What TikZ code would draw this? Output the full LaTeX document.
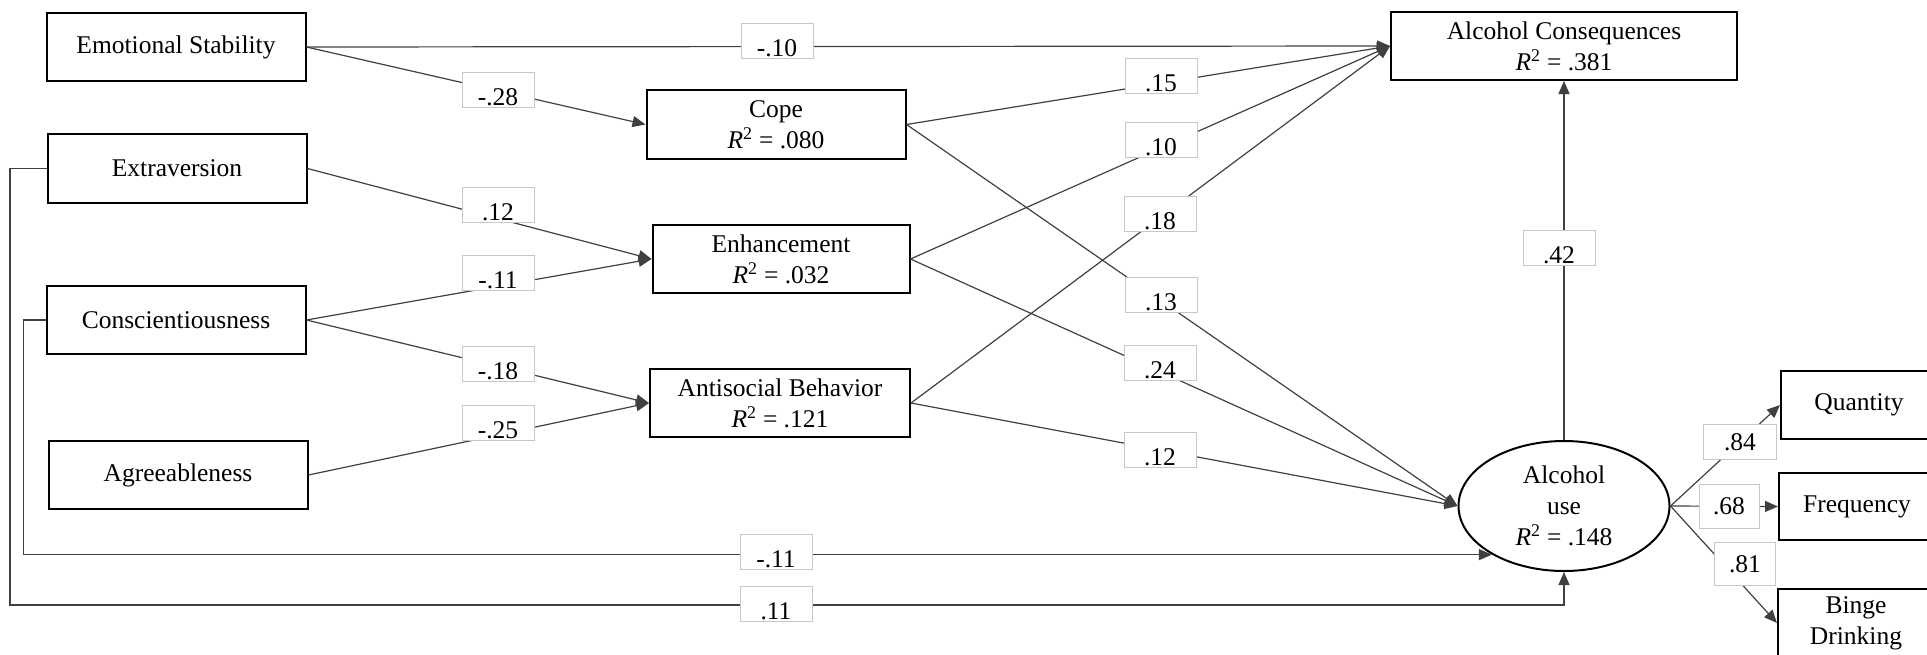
\documentclass[tikz,border=0pt]{standalone}
\usepackage{fontspec}
\setmainfont{Liberation Serif}
\usetikzlibrary{arrows.meta,shapes.geometric}
\newcommand\Rsq{\textit{R}\textsuperscript{2}}
\begin{document}
\begin{tikzpicture}[x=1pt,y=-1pt,
  font=\fontsize{25.5}{31}\selectfont,
  box/.style={draw=black,line width=2pt,align=center,inner sep=0pt,minimum height=68pt},
  conn/.style={draw=black!75,line width=1.2pt},
  arr/.style={conn,-{Triangle[length=13pt,width=11pt]}},
  lab/.style={draw=black!22,line width=0.8pt,fill=white,inner xsep=0pt,inner ysep=1pt,
    text height=32pt,text depth=1pt,minimum width=72pt},
  labc/.style={draw=black!22,line width=0.8pt,fill=white,inner sep=0pt,
    text height=17.5pt,text depth=0pt},
]
\useasboundingbox (0,0) rectangle (1927,654);

% boxes
\node[box,minimum width=259pt] (es) at (176,47) {Emotional Stability};
\node[box,minimum width=259pt,minimum height=69pt] (ex) at (177,168.5) {Extraversion};
\node[box,minimum width=259pt] (co) at (176,320) {Conscientiousness};
\node[box,minimum width=259pt] (ag) at (178,475) {Agreeableness};
\node[box,minimum width=259pt,minimum height=69pt] (cope) at (776,124.5) {Cope\\\Rsq{} = .080};
\node[box,minimum width=257pt] (enh) at (781,259) {Enhancement\\\Rsq{} = .032};
\node[box,minimum width=260pt] (ab) at (780,403) {Antisocial Behavior\\\Rsq{} = .121};
\node[box,minimum width=346pt] (ac) at (1564,46) {Alcohol Consequences\\\Rsq{} = .381};
\node[draw=black,line width=2pt,ellipse,minimum width=211pt,minimum height=130pt,
  inner sep=0pt,align=center] (au) at (1564,506) {Alcohol\\use\\\Rsq{} = .148};
\node[box,minimum width=156pt] (qu) at (1859,405) {Quantity};
\node[box,minimum width=156pt,minimum height=67pt] (fr) at (1857,506.5) {Frequency};
\node[box,minimum width=156pt] (bd) at (1856,623) {Binge\\Drinking};

% connectors
\draw[arr] (es.east) -- (ac.west);
\draw[arr] (es.east) -- (cope.west);
\draw[arr] (ex.east) -- (enh.west);
\draw[arr] (co.east) -- (enh.west);
\draw[arr] (co.east) -- (ab.west);
\draw[arr] (ag.east) -- (ab.west);
\draw[arr] (cope.east) -- (ac.west);
\draw[arr] (enh.east) -- (ac.west);
\draw[arr] (ab.east) -- (ac.west);
\draw[arr] (cope.east) -- (au.west);
\draw[arr] (enh.east) -- (au.west);
\draw[arr] (ab.east) -- (au.west);
\draw[arr] (au.north) -- (ac.south);
\draw[arr] (au.east) -- (qu.west);
\draw[arr] (au.east) -- (fr.west);
\draw[arr] (au.east) -- (bd.west);
\draw[arr] (co.west) -- ++(-22,0) |- (au.214.6);
\coordinate (exc) at (10,605);
\draw[arr] (ex.west) -| (exc) -| (au.south);

% labels
\node[lab] (l01) at (777,40.5) {-.10};
\node[lab] (l02) at (498,89.5) {-.28};
\node[lab] (l03) at (498,204.5) {.12};
\node[lab] (l04) at (498,272.5) {-.11};
\node[lab] (l05) at (498,363.5) {-.18};
\node[lab] (l06) at (498,422.5) {-.25};
\node[lab] (l07) at (1161,75.5) {.15};
\node[lab] (l08) at (1161,139.5) {.10};
\node[lab] (l09) at (1160,214) {.18};
\node[lab] (l10) at (1161,295) {.13};
\node[lab] (l11) at (1160,362.5) {.24};
\node[lab] (l12) at (1160,449.5) {.12};
\node[lab] (l13) at (1559,248) {.42};
\node[lab] (l14) at (776,551.5) {-.11};
\node[lab] (l15) at (776,604) {.11};
\node[labc,minimum width=73pt,minimum height=35pt] (l16) at (1740,441.5) {.84};
\node[labc,minimum width=60pt,minimum height=44pt] (l17) at (1729,506) {.68};
\node[labc,minimum width=61pt,minimum height=43pt] (l18) at (1745,564) {.81};
\end{tikzpicture}
\end{document}
